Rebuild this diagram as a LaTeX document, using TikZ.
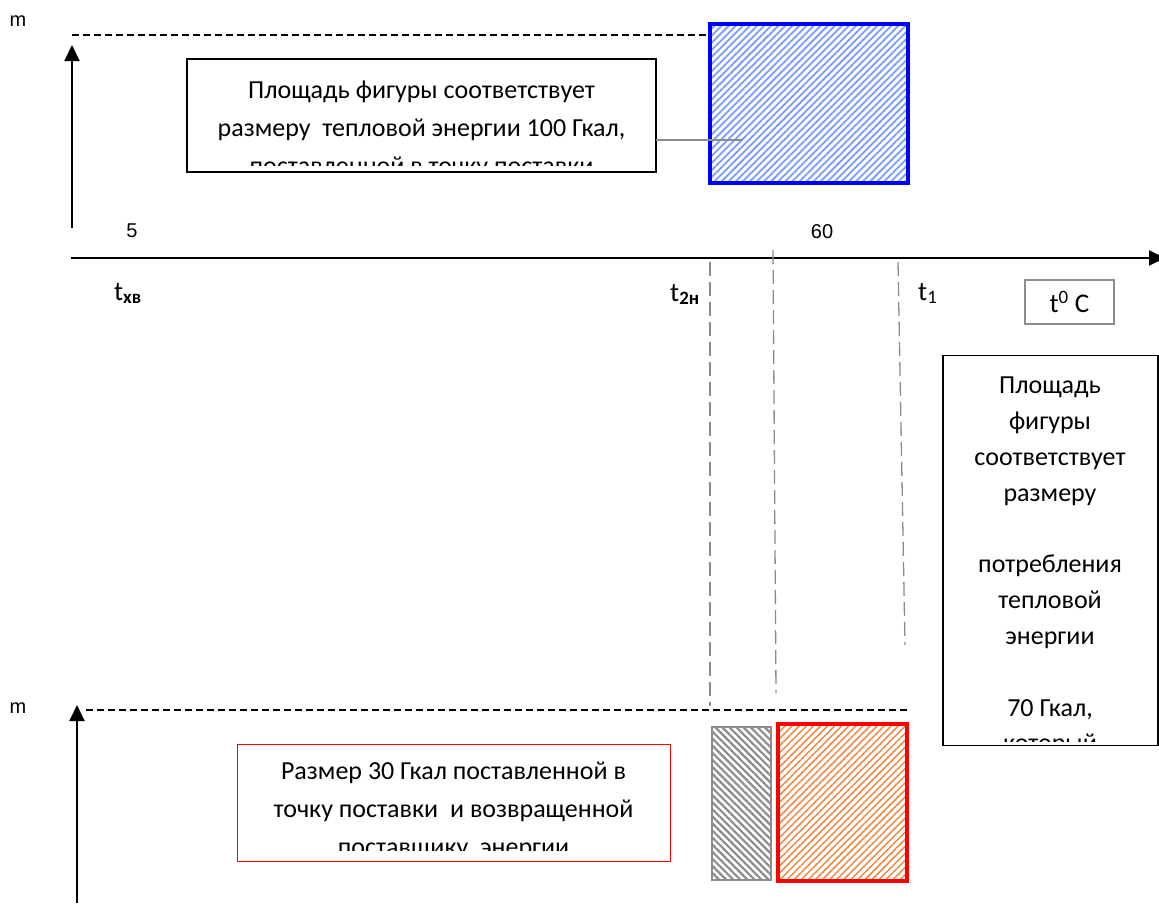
\documentclass[tikz,border=0pt]{standalone}
\usepackage{fontspec}
\setmainfont{Carlito}
\newfontfamily\arialf{Liberation Sans}
\usetikzlibrary{arrows.meta,patterns.meta}
\definecolor{hatchblue}{RGB}{120,155,255}
\definecolor{hatchorange}{RGB}{240,135,65}
\definecolor{dgray}{RGB}{140,140,140}
\tikzset{
  ax/.style={line width=2pt,-{Triangle[length=16pt,width=15pt]}},
  guide/.style={dash pattern=on 7pt off 4pt,line width=1.1pt},
  vguide/.style={dgray,dash pattern=on 14pt off 6pt,line width=1.3pt},
  txt/.style={align=center,inner sep=0pt},
  small/.style={font=\arialf\fontsize{20}{22}\selectfont},
  tlab/.style={font=\fontsize{27}{30}\selectfont,anchor=base west,inner sep=0pt},
  boxnode/.style={draw,inner sep=0pt,outer sep=0pt,line width=1.2pt},
}
\begin{document}
\begin{tikzpicture}[x=1pt,y=-1pt]
\useasboundingbox (0,0) rectangle (1159,903);
% ---------- top part ----------
\node[small] (m1) at (18,21) {m};
\coordinate (ya0) at (72,228);
\coordinate (ya1) at (72,45);
\draw[ax] (ya0) -- (ya1);
\coordinate (dl0) at (72,35);
% blue rectangle
\node[boxnode,draw=blue,line width=4pt,minimum width=198pt,minimum height=159pt,
  pattern={Lines[angle=45,distance=5pt,line width=1.8pt]},pattern color=hatchblue] (blue) at (809,103.5) {};
\draw[guide] (dl0) -- (dl0 -| blue.west);
% top text box
\node[boxnode,minimum width=469pt,minimum height=113pt] (box1) at (421.5,115.5) {};
\begin{scope}
\clip (188,60) rectangle (655,165);
\node[txt,anchor=north,font=\fontsize{26}{38}\selectfont] (t1) at (421.5,81) {Площадь фигуры соответствует\\размеру\ \ тепловой энергии 100 Гкал,\\поставленной в точку поставки};
\end{scope}
\coordinate (c1) at (743,140);
\draw[dgray,line width=2pt] (box1.east |- c1) -- (c1);
% x axis
\coordinate (xa0) at (71,258);
\coordinate (xa1) at (1165,258);
\draw[ax] (xa0) -- (xa1);
\node[small] (n5) at (132,231) {5};
\node[small] (n60) at (822,232) {60};
\node[tlab] (txv) at (114,300) {t\textsubscript{\textbf{хв}}};
\node[tlab] (t2n) at (670,301) {t\textsubscript{\textbf{2н}}};
\node[tlab] (t1l) at (918,300) {t\textsubscript{1}};
\node[boxnode,draw=dgray,line width=1.5pt,minimum width=89pt,minimum height=44pt,
  font=\fontsize{27}{30}\selectfont] (tc) at (1069.5,302) {t\textsuperscript{0} C};
% vertical guides
\coordinate (g1a) at (710,262); \coordinate (g1b) at (710,706);
\coordinate (g2a) at (773,250); \coordinate (g2b) at (776,693);
\coordinate (g3a) at (898,262); \coordinate (g3b) at (905,645);
\draw[vguide] (g1a) -- (g1b);
\draw[vguide] (g2a) -- (g2b);
\draw[vguide] (g3a) -- (g3b);
% right text box
\node[boxnode,minimum width=215pt,minimum height=390pt] (box2) at (1050.5,550.5) {};
\begin{scope}
\clip (944,357) rectangle (1157,741);
\node[txt,anchor=north,font=\fontsize{26}{35.8}\selectfont] (t2) at (1050,377) {Площадь\\фигуры\\соответствует\\размеру\\[35.8pt]потребления\\тепловой\\энергии\\[35.8pt]70 Гкал,\\который};
\end{scope}
% ---------- bottom part ----------
\node[small] (m2) at (18,708) {m};
\coordinate (yb0) at (77,903);
\coordinate (yb1) at (77,705);
\draw[ax] (yb0) -- (yb1);
\coordinate (dl1) at (86,710);
\coordinate (dl2) at (910,710);
\draw[guide] (dl1) -- (dl2);
% red text box
\node[boxnode,draw=red,line width=0.8pt,minimum width=433pt,minimum height=117pt] (box3) at (453.5,802.5) {};
\begin{scope}
\clip (238,745) rectangle (669,850);
\node[txt,anchor=north,font=\fontsize{26}{38}\selectfont] (t3) at (453.5,762) {Размер 30 Гкал поставленной в\\точку поставки\ \ и возвращенной\\поставщику\ \ энергии};
\end{scope}
% hatched rectangles
\node[boxnode,draw=dgray,line width=2pt,minimum width=59pt,minimum height=153pt,
  pattern={Lines[angle=-45,distance=5pt,line width=2.2pt]},pattern color=dgray] (grayr) at (741.5,803.5) {};
\node[boxnode,draw=red,line width=4pt,minimum width=129pt,minimum height=157pt,
  pattern={Lines[angle=45,distance=5pt,line width=1.5pt]},pattern color=hatchorange] (redr) at (842.5,802.5) {};
\end{tikzpicture}
\end{document}
